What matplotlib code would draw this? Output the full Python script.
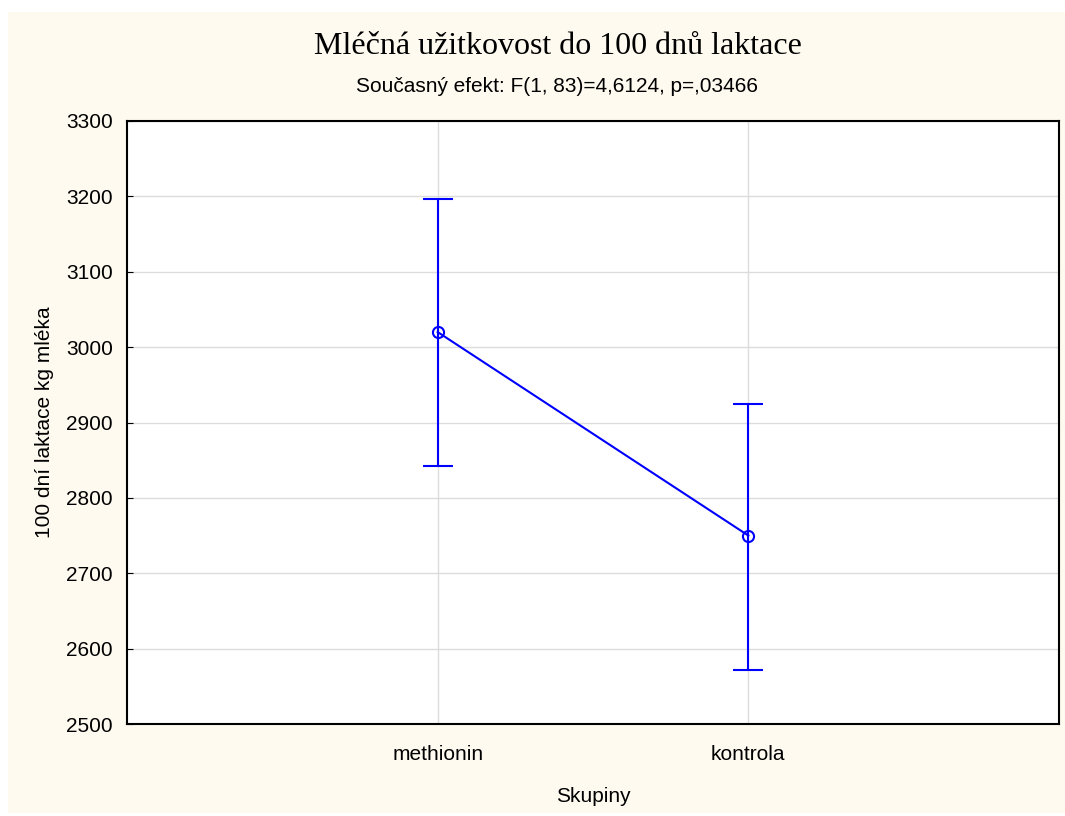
import matplotlib.pyplot as plt
from matplotlib.patches import Rectangle

# data
groups = ['methionin', 'kontrola']
means = [3020, 2750]
upper = [3196, 2925]
lower = [2842, 2572]

title = 'Mléčná užitkovost do 100 dnů laktace'
subtitle = 'Současný efekt: F(1, 83)=4,6124, p=,03466'

plt.rcParams['font.family'] = ['Liberation Sans', 'DejaVu Sans']

fig = plt.figure(figsize=(10.65, 8.16), dpi=100, facecolor='white')
# cream panel with thin white margin on the left/top
fig.patches.append(Rectangle((8 / 1065, 3 / 816), 1 - 8 / 1065, 1 - 15 / 816,
                             transform=fig.transFigure, facecolor='#FEFAF0',
                             edgecolor='none', zorder=-10))

ax = fig.add_axes([127 / 1065, 92 / 816, 932 / 1065, 603 / 816])
ax.set_facecolor('white')

x = [1, 2]
err_low = [m - l for m, l in zip(means, lower)]
err_up = [u - m for m, u in zip(means, upper)]
ax.errorbar(x, means, yerr=[err_low, err_up], color='#0000FF', lw=1.5,
            elinewidth=1.5, capsize=11, capthick=1.5, marker='o', ms=8,
            mfc='none', mec='#0000FF', mew=1.5, zorder=3)

ax.set_xlim(0, 3)
ax.set_ylim(2500, 3300)
ax.set_xticks(x)
ax.set_xticklabels(groups)
ax.set_yticks(range(2500, 3301, 100))
ax.grid(True, color='#DCDCDC', lw=1)
ax.set_axisbelow(True)
ax.tick_params(direction='in', length=4, labelsize=15, colors='black', pad=10)
ax.tick_params(axis='x', length=0, pad=15)
for s in ax.spines.values():
    s.set_linewidth(1.5)
    s.set_color('black')

ax.set_ylabel('100 dní laktace kg mléka', fontsize=15, labelpad=9)
ax.set_xlabel('Skupiny', fontsize=15, labelpad=17)

fig.text(558 / 1065, 1 - 46 / 816, title, ha='center', va='center',
         fontsize=23, family=['Liberation Serif', 'DejaVu Serif'])
fig.text(557 / 1065, 1 - 87 / 816, subtitle, ha='center', va='center',
         fontsize=15)

fig.savefig('out.png', dpi=100, facecolor=fig.get_facecolor())
